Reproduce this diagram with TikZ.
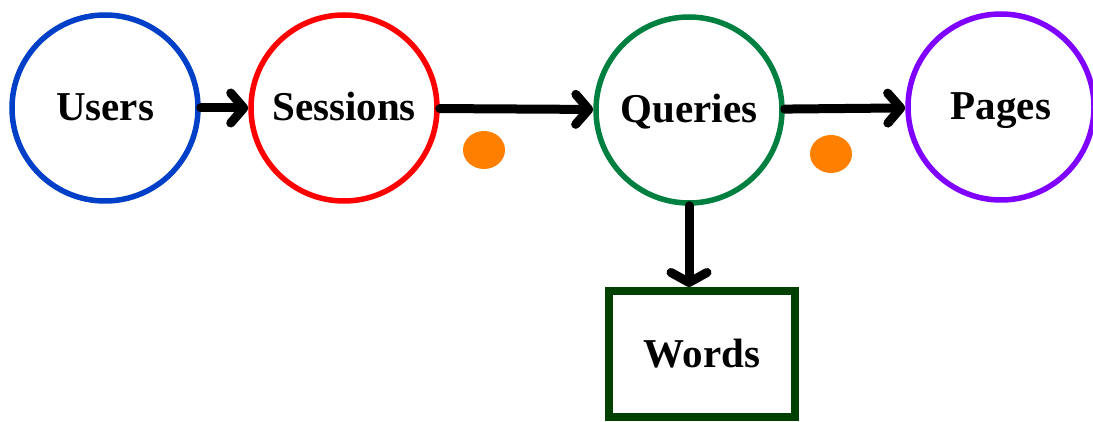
\documentclass[tikz,border=0pt]{standalone}
\usepackage{fontspec}
\setmainfont{Liberation Serif}
\usetikzlibrary{arrows.meta,shapes.geometric}
\definecolor{ublue}{RGB}{0,64,200}
\definecolor{sred}{RGB}{255,0,0}
\definecolor{qgreen}{RGB}{0,128,64}
\definecolor{ppurple}{RGB}{128,0,255}
\definecolor{wgreen}{RGB}{0,64,0}
\definecolor{dotorange}{RGB}{255,128,0}
\begin{document}
\begin{tikzpicture}[x=1pt,y=-1pt,
  entity/.style={circle,draw,line width=5.5pt,inner sep=0pt,minimum size=186pt,
    text height=30pt,text depth=4pt,
    font=\fontsize{41}{42}\selectfont\bfseries},
  wordbox/.style={rectangle,draw=wgreen,line width=8pt,inner sep=0pt,
    minimum width=186pt,minimum height=126pt,font=\fontsize{41}{42}\selectfont\bfseries},
  link/.style={line width=9pt,line cap=round,
    -{Straight Barb[round,length=13pt,width=30pt]}},
  blob/.style={ellipse,fill=dotorange,inner sep=0pt,minimum width=42pt,minimum height=38pt}]
\useasboundingbox[fill=white] (0,0) rectangle (1093,422);
\node[entity,draw=ublue]   (users)    at (105,108) {Users};
\node[entity,draw=sred]    (sessions) at (344,108) {Sessions};
\node[entity,draw=qgreen]  (queries)  at (689,110) {Queries};
\node[entity,draw=ppurple] (pages)    at (1001,107) {Pages};
\node[wordbox] (words) at (702,354) {Words};
\node[blob] (dotA) at (484,150) {};
\node[blob] (dotB) at (831,154) {};
\draw[link] (users) -- (sessions);
\draw[link] (sessions) -- (queries);
\draw[link] (queries) -- (pages);
\draw[link,-{Straight Barb[round,length=10pt,width=36pt]}]
  (queries.south) -- (queries.south |- words.north);
\end{tikzpicture}
\end{document}
